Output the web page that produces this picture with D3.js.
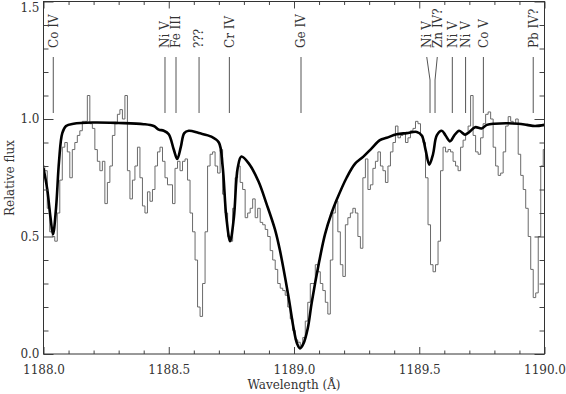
<!DOCTYPE html>
<html><head><meta charset="utf-8">
<script src="https://cdn.jsdelivr.net/npm/d3@7"></script>
<style>
body{margin:0;background:#fff;}
svg{display:block;}
text{font-family:"DejaVu Serif",serif;fill:#333;}
</style></head>
<body><svg id="c" width="566" height="394"></svg>
<script>
// ---- data ----
const specStart = 1188.00, specStep = 0.01;
const specFlux = [
0.80,0.78,0.62,0.52,0.50,0.48,0.60,0.74,0.88,0.90,
0.86,0.75,0.87,0.90,0.93,0.95,0.99,0.99,1.10,0.98,
0.96,0.87,0.82,0.78,0.82,0.64,0.73,0.80,0.93,0.98,
1.02,1.04,1.00,1.10,0.78,0.66,0.74,0.80,0.88,0.75,
0.63,0.60,0.69,0.65,0.70,0.80,0.86,0.88,0.82,0.75,
0.72,0.72,0.64,0.79,0.82,0.78,0.82,0.83,0.74,0.60,
0.52,0.40,0.20,0.16,0.30,0.52,0.80,0.85,0.86,0.80,
0.77,0.87,0.68,0.60,0.50,0.48,0.62,0.75,0.80,0.73,
0.70,0.58,0.60,0.62,0.66,0.58,0.62,0.56,0.55,0.53,
0.50,0.44,0.40,0.36,0.30,0.28,0.27,0.25,0.20,0.15,
0.10,0.06,0.05,0.03,0.07,0.14,0.22,0.30,0.30,0.38,
0.35,0.30,0.27,0.22,0.17,0.40,0.60,0.65,0.52,0.38,
0.33,0.55,0.58,0.60,0.62,0.60,0.50,0.45,0.75,0.83,
0.70,0.72,0.79,0.82,0.86,0.80,0.78,0.73,0.80,0.86,
0.90,0.97,0.92,0.93,0.94,0.90,0.92,0.95,0.96,0.99,
0.98,0.93,0.90,0.75,0.55,0.38,0.35,0.38,0.48,0.78,
0.88,0.86,0.87,0.86,0.82,0.80,0.78,0.88,0.91,0.94,
0.97,1.10,0.93,0.86,0.85,0.92,0.98,1.02,1.03,1.00,
0.88,0.80,0.76,0.77,0.86,0.97,1.01,0.99,0.98,1.00,
0.85,0.76,0.70,0.62,0.50,0.36,0.24,0.26,0.50,0.80,0.87];

const modelWave = [1188.000,1188.015,1188.028,1188.038,1188.050,1188.062,1188.075,1188.090,1188.12,1188.2,1188.3,1188.4,1188.44,1188.46,1188.48,1188.50,1188.52,1188.534,1188.548,1188.562,1188.58,1188.62,1188.67,1188.70,1188.715,1188.73,1188.745,1188.76,1188.775,1188.79,1188.82,1188.858,1188.89,1188.924,1188.944,1188.977,1189.00,1189.012,1189.024,1189.038,1189.055,1189.071,1189.10,1189.124,1189.15,1189.17,1189.21,1189.244,1189.277,1189.31,1189.343,1189.37,1189.41,1189.45,1189.49,1189.51,1189.525,1189.54,1189.555,1189.57,1189.59,1189.605,1189.623,1189.64,1189.659,1189.673,1189.683,1189.70,1189.723,1189.749,1189.77,1189.80,1189.895,1189.93,1189.962,1190.0];
const modelFlux = [0.79,0.70,0.58,0.51,0.62,0.82,0.94,0.97,0.98,0.985,0.983,0.978,0.97,0.955,0.95,0.935,0.87,0.83,0.88,0.94,0.95,0.94,0.925,0.90,0.80,0.58,0.48,0.58,0.79,0.84,0.81,0.735,0.64,0.53,0.44,0.25,0.10,0.045,0.024,0.045,0.11,0.22,0.39,0.51,0.60,0.655,0.75,0.81,0.84,0.875,0.91,0.92,0.935,0.94,0.945,0.93,0.87,0.806,0.85,0.93,0.95,0.93,0.905,0.93,0.95,0.94,0.933,0.945,0.965,0.96,0.975,0.98,0.98,0.975,0.97,0.975];

const lineNames = ["Co IV","Ni V","Fe III","???","Cr IV","Ge IV","Ni V","Zn IV?","Ni V","Ni V","Co V","Pb IV?"];
const lineWaves = [1188.039,1188.485,1188.529,1188.621,1188.742,1189.028,1189.543,1189.563,1189.632,1189.685,1189.756,1189.955];
const labelWaves = [1188.039,1188.485,1188.529,1188.621,1188.742,1189.028,1189.530,1189.572,1189.632,1189.685,1189.756,1189.955];

const xMajor = [1188.0,1188.5,1189.0,1189.5,1190.0];
const xMinor = [1188.1,1188.2,1188.3,1188.4,1188.6,1188.7,1188.8,1188.9,1189.1,1189.2,1189.3,1189.4,1189.6,1189.7,1189.8,1189.9];
const yMajor = [0.0,0.5,1.0,1.5];
const yMinor = [0.1,0.2,0.3,0.4,0.6,0.7,0.8,0.9,1.1,1.2,1.3,1.4];

// ---- chart ----
const svg = d3.select("#c");
const L=43.5, R=544.5, T=1.5, B=354;
const x = d3.scaleLinear().domain([1188,1190]).range([L,R]);
const y = d3.scaleLinear().domain([0,1.5]).range([B,T]);

svg.append("clipPath").attr("id","clip").append("rect")
  .attr("x",L).attr("y",T).attr("width",R-L).attr("height",B-T);

const spec = specFlux.map((f,i)=>({w:specStart+i*specStep,f}));
svg.append("path").datum(spec)
  .attr("clip-path","url(#clip)")
  .attr("fill","none").attr("stroke","#6a6a6a").attr("stroke-width",1)
  .attr("d",d3.line().x(d=>x(d.w)).y(d=>y(d.f)).curve(d3.curveStep));

const model = modelWave.map((w,i)=>({w,f:modelFlux[i]}));
svg.append("path").datum(model)
  .attr("clip-path","url(#clip)")
  .attr("fill","none").attr("stroke","#000").attr("stroke-width",2.6)
  .attr("stroke-linejoin","round")
  .attr("d",d3.line().x(d=>x(d.w)).y(d=>y(d.f)).curve(d3.curveCatmullRom.alpha(0.5)));

// line id marks
const ids = lineNames.map((n,i)=>({n,w:lineWaves[i],lw:labelWaves[i]}));
const g = svg.append("g");
g.selectAll("path.id").data(ids).join("path")
  .attr("fill","none").attr("stroke","#555").attr("stroke-width",1)
  .attr("d",d=>`M${x(d.lw)},57L${x(d.w)},${d.lw===d.w?57:80}L${x(d.w)},113`);
g.selectAll("text.id").data(ids).join("text")
  .attr("transform",d=>`translate(${x(d.lw)},48) rotate(-90)`)
  .attr("dy","0.36em").attr("font-size",12).text(d=>d.n);

// axes
function styleAxis(sel){
  sel.select(".domain").remove();
  sel.selectAll("line").attr("stroke","#444");
  sel.selectAll("text").attr("font-family","DejaVu Serif").attr("font-size",12).attr("fill","#333");
}
const fmt = d3.format(".1f");
svg.append("g").attr("transform",`translate(0,${B})`)
  .call(d3.axisBottom(x).tickValues(xMajor).tickSize(-7).tickPadding(11).tickFormat(fmt)).call(styleAxis);
svg.append("g").attr("transform",`translate(0,${B})`)
  .call(d3.axisBottom(x).tickValues(xMinor).tickSize(-3.5).tickFormat("")).call(styleAxis);
svg.append("g").attr("transform",`translate(0,${T})`)
  .call(d3.axisTop(x).tickValues(xMajor).tickSize(-7).tickFormat("")).call(styleAxis);
svg.append("g").attr("transform",`translate(0,${T})`)
  .call(d3.axisTop(x).tickValues(xMinor).tickSize(-3.5).tickFormat("")).call(styleAxis);
const yAx = svg.append("g").attr("transform",`translate(${L},0)`)
  .call(d3.axisLeft(y).tickValues(yMajor).tickSize(-10).tickPadding(4).tickFormat(fmt)).call(styleAxis);
yAx.selectAll("text").filter(d=>d===1.5).attr("dy","0.82em");
svg.append("g").attr("transform",`translate(${L},0)`)
  .call(d3.axisLeft(y).tickValues(yMinor).tickSize(-5).tickFormat("")).call(styleAxis);
svg.append("g").attr("transform",`translate(${R},0)`)
  .call(d3.axisRight(y).tickValues(yMajor).tickSize(-10).tickFormat("")).call(styleAxis);
svg.append("g").attr("transform",`translate(${R},0)`)
  .call(d3.axisRight(y).tickValues(yMinor).tickSize(-5).tickFormat("")).call(styleAxis);

svg.append("rect").attr("x",L).attr("y",T).attr("width",R-L).attr("height",B-T)
  .attr("fill","none").attr("stroke","#333").attr("stroke-width",1);

svg.append("text").attr("x",(L+R)/2).attr("y",389).attr("text-anchor","middle")
  .attr("font-size",12).text("Wavelength (Å)");
svg.append("text").attr("transform",`translate(14,178) rotate(-90)`).attr("text-anchor","middle")
  .attr("font-size",12).text("Relative flux");
</script></body></html>
